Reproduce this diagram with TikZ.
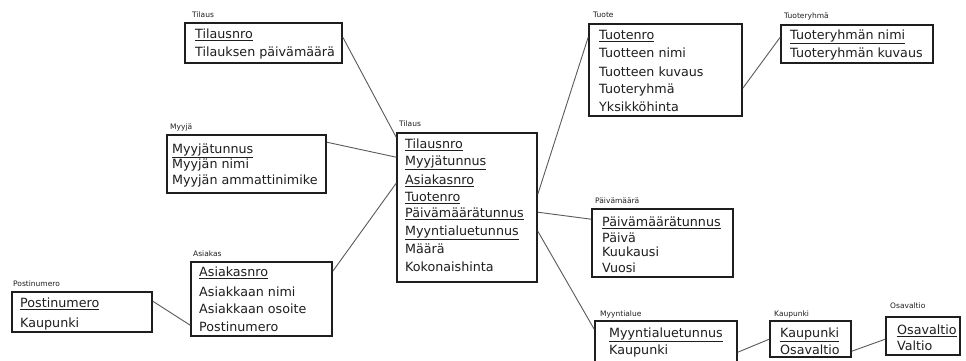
\documentclass[tikz,border=0pt]{standalone}
\usepackage{fontspec}
\setmainfont{DejaVu Sans}
\usetikzlibrary{fit}
\definecolor{ink}{HTML}{1E1E1E}
\definecolor{wirec}{HTML}{5A5A5A}
\newcommand{\keyf}[1]{\underline{#1}}
\tikzset{
  ebox/.style={draw=ink, line width=1.6pt, inner sep=0pt},
  row/.style={anchor=base west, inner sep=0pt, font=\fontsize{12.7}{15}\selectfont, text=ink},
  etitle/.style={anchor=base west, inner sep=0pt, font=\fontsize{7.5}{9}\selectfont, text=ink},
  wire/.style={draw=wirec, line width=0.9pt},
}
\newcommand{\entbox}[5]{%
  \coordinate (#1-nw) at (#2);
  \coordinate (#1-se) at (#3);
  \node[ebox, fit=(#1-nw)(#1-se)] (#1) {};
  \node[etitle] (#1-title) at (#4) {#5};}
\newcommand{\entrows}[3]{%
  \foreach \yy/\txt [count=\i] in {#3} \node[row] (#1-r\i) at (#2,\yy) {\txt};}
\begin{document}
\begin{tikzpicture}[x=1pt,y=-1pt]
\clip (0,0) rectangle (966,360);
\fill[white] (0,0) rectangle (966,360);

\entbox{tilA}{185,23}{342,63}{192,17}{Tilaus}
\entrows{tilA}{195}{38.5/{\keyf{Tilausnro}}, 56.5/{Tilauksen päivämäärä}}

\entbox{myy}{167,135}{326,193}{170,129}{Myyjä}
\entrows{myy}{172}{153.5/{\keyf{Myyjätunnus}}, 168.5/{Myyjän nimi}, 184.5/{Myyjän ammattinimike}}

\entbox{asi}{191,262}{332,336}{193,256}{Asiakas}
\entrows{asi}{199}{276.5/{\keyf{Asiakasnro}}, 296.5/{Asiakkaan nimi}, 313.5/{Asiakkaan osoite}, 331.5/{Postinumero}}

\entbox{post}{12,292}{152,332}{13,286}{Postinumero}
\entrows{post}{20}{307.5/{\keyf{Postinumero}}, 327.5/{Kaupunki}}

\entbox{tilB}{397,133}{537,282}{399,126}{Tilaus}
\entrows{tilB}{405}{148.5/{\keyf{Tilausnro}}, 165.5/{\keyf{Myyjätunnus}}, 184.5/{\keyf{Asiakasnro}}, 201.5/{\keyf{Tuotenro}}, 217.5/{\keyf{Päivämäärätunnus}}, 235.5/{\keyf{Myyntialuetunnus}}, 253.5/{Määrä}, 271.5/{Kokonaishinta}}

\entbox{tuote}{589,24}{742,116}{593,17}{Tuote}
\entrows{tuote}{599}{39.5/{\keyf{Tuotenro}}, 57.5/{Tuotteen nimi}, 76.5/{Tuotteen kuvaus}, 93.5/{Tuoteryhmä}, 111.5/{Yksikköhinta}}

\entbox{tr}{781,25}{933,63}{784,18}{Tuoteryhmä}
\entrows{tr}{790}{39.5/{\keyf{Tuoteryhmän nimi}}, 57.5/{Tuoteryhmän kuvaus}}

\entbox{paiv}{592,209}{733,277}{595,203}{Päivämäärä}
\entrows{paiv}{602}{226.5/{\keyf{Päivämäärätunnus}}, 242.5/{Päivä}, 256.5/{Kuukausi}, 272.5/{Vuosi}}

\entbox{mya}{595,321}{737,366}{600,316}{Myyntialue}
\entrows{mya}{609}{337.5/{\keyf{Myyntialuetunnus}}, 354.5/{Kaupunki}}

\entbox{kau}{770,321}{851,357}{774,316}{Kaupunki}
\entrows{kau}{780}{337.5/{\keyf{Kaupunki}}, 354.5/{Osavaltio}}

\entbox{osa}{886,317}{960,355}{890,308}{Osavaltio}
\entrows{osa}{897}{334.5/{\keyf{Osavaltio}}, 350.5/{Valtio}}

\draw[wire] ([yshift=-15pt]tilA.north east) -- ([yshift=-5pt]tilB.north west);
\draw[wire] ([yshift=-8pt]myy.north east) -- ([yshift=-25pt]tilB.north west);
\draw[wire] ([yshift=-10pt]asi.north east) -- ([yshift=-51pt]tilB.north west);
\draw[wire] ([yshift=-10pt]post.north east) -- ([yshift=-64pt]asi.north west);
\draw[wire] ([yshift=-62pt]tilB.north east) -- ([yshift=-14pt]tuote.north west);
\draw[wire] ([yshift=-65pt]tuote.north east) -- ([yshift=-13pt]tr.north west);
\draw[wire] ([yshift=-80pt]tilB.north east) -- ([yshift=-11pt]paiv.north west);
\draw[wire] ([yshift=-99pt]tilB.north east) -- ([yshift=-9pt]mya.north west);
\draw[wire] ([yshift=-32pt]mya.north east) -- ([yshift=-19pt]kau.north west);
\draw[wire] ([yshift=-31pt]kau.north east) -- ([yshift=-23pt]osa.north west);
\end{tikzpicture}
\end{document}
